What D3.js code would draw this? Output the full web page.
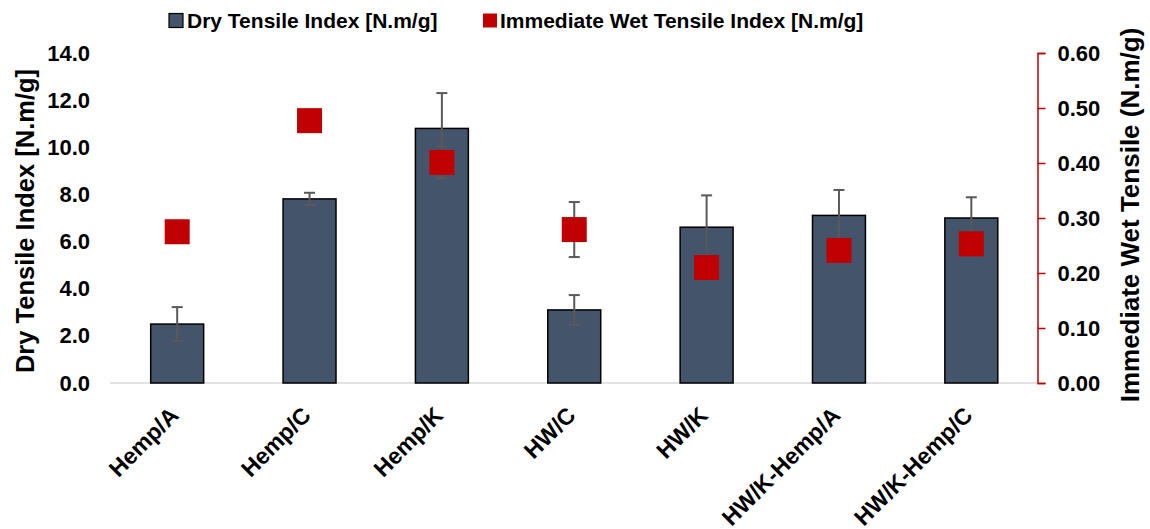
<!DOCTYPE html>
<html>
<head>
<meta charset="utf-8">
<script src="https://cdn.jsdelivr.net/npm/d3@7"></script>
<style>
  html, body { margin: 0; padding: 0; background: #fff; }
  svg { display: block; }
</style>
</head>
<body>
<svg id="chart" width="1150" height="529"></svg>
<script>
const categories = ["Hemp/A", "Hemp/C", "Hemp/K", "HW/C", "HW/K", "HW/K-Hemp/A", "HW/K-Hemp/C"];
const dryValues = [2.50, 7.81, 10.80, 3.10, 6.61, 7.11, 7.00];
const dryErrors = [0.72, 0.26, 1.50, 0.63, 1.35, 1.08, 0.88];
const wetValues = [0.275, 0.477, 0.401, 0.279, 0.210, 0.241, 0.253];
const wetErrors = [0.015, 0.015, 0.029, 0.050, 0.015, 0.015, 0.015];
const leftTicks = [0, 2, 4, 6, 8, 10, 12, 14];
const rightTicks = [0, 0.1, 0.2, 0.3, 0.4, 0.5, 0.6];
const seriesNames = ["Dry Tensile Index [N.m/g]", "Immediate Wet Tensile Index [N.m/g]"];
const leftTitle = "Dry Tensile Index [N.m/g]";
const rightTitle = "Immediate Wet Tensile (N.m/g)";

const barColor = "#44546A";
const wetColor = "#C00000";
const errColor = "#595959";
const FONT = "'Liberation Sans', Arial, sans-serif";

(function () {
const svg = d3.select("#chart");
const pL = 111, pR = 1037.5, pT = 53, pB = 383;

const x = d3.scaleBand().domain(categories).range([pL, pR]).paddingInner(0.6).paddingOuter(0.3);
const yL = d3.scaleLinear().domain([0, 14]).range([pB, pT]);
const yR = d3.scaleLinear().domain([0, 0.6]).range([pB, pT]);

function styleText(sel, size) {
  return sel.attr("font-family", FONT).attr("font-weight", "bold").attr("fill", "#000").attr("font-size", size);
}

// baseline
svg.append("line").attr("x1", 110).attr("x2", pR).attr("y1", pB).attr("y2", pB)
  .attr("stroke", "#D9D9D9").attr("stroke-width", 1.5);

// bars
svg.append("g").selectAll("rect").data(categories).join("rect")
  .attr("x", d => x(d))
  .attr("y", (d, i) => yL(dryValues[i]))
  .attr("width", x.bandwidth())
  .attr("height", (d, i) => yL(0) - yL(dryValues[i]))
  .attr("fill", barColor).attr("stroke", "#000").attr("stroke-width", 1.5);

// error bars
function errBars(g, vals, errs, scale) {
  const cap = 5.5;
  categories.forEach((c, i) => {
    const cx = x(c) + x.bandwidth() / 2;
    const y1 = scale(vals[i] + errs[i]), y2 = scale(vals[i] - errs[i]);
    g.append("line").attr("x1", cx).attr("x2", cx).attr("y1", y1).attr("y2", y2);
    g.append("line").attr("x1", cx - cap).attr("x2", cx + cap).attr("y1", y1).attr("y2", y1);
    g.append("line").attr("x1", cx - cap).attr("x2", cx + cap).attr("y1", y2).attr("y2", y2);
  });
}
const gErr = svg.append("g").attr("stroke", errColor).attr("stroke-width", 2);
errBars(gErr, dryValues, dryErrors, yL);
const gErr2 = svg.append("g").attr("stroke", errColor).attr("stroke-width", 2);
errBars(gErr2, wetValues, wetErrors, yR);

// wet markers
const ms = 25;
svg.append("g").selectAll("rect").data(categories).join("rect")
  .attr("x", d => x(d) + x.bandwidth() / 2 - ms / 2)
  .attr("y", (d, i) => yR(wetValues[i]) - ms / 2)
  .attr("width", ms).attr("height", ms)
  .attr("fill", wetColor);

// left axis (labels only)
const axL = svg.append("g").attr("transform", `translate(${pL},0)`)
  .call(d3.axisLeft(yL).tickValues(leftTicks).tickFormat(d3.format(".1f")).tickSize(0).tickPadding(21));
axL.select(".domain").remove();
styleText(axL.selectAll("text"), 22);

// right axis
const axR = svg.append("g").attr("transform", `translate(${pR},0)`)
  .call(d3.axisRight(yR).tickValues(rightTicks).tickFormat(d3.format(".2f")).tickSize(8).tickSizeOuter(8).tickPadding(12));
axR.select(".domain").attr("stroke", wetColor).attr("stroke-width", 1.5);
axR.selectAll(".tick line").attr("stroke", wetColor).attr("stroke-width", 1.5);
styleText(axR.selectAll("text"), 22);

// x labels
styleText(svg.append("g").selectAll("text").data(categories).join("text"), 23)
  .attr("transform", d => `translate(${x(d) + x.bandwidth() / 2 - 3},${pB + 28}) rotate(-45)`)
  .attr("text-anchor", "end").attr("dy", "0.35em")
  .text(d => d);

// axis titles
styleText(svg.append("text"), 25.5)
  .attr("transform", `translate(34,${(pT + pB) / 2 + 3}) rotate(-90)`)
  .attr("text-anchor", "middle").text(leftTitle);
styleText(svg.append("text"), 26)
  .attr("transform", `translate(1139,215) rotate(-90)`)
  .attr("text-anchor", "middle").text(rightTitle);

// legend
const lg = svg.append("g");
lg.append("rect").attr("x", 169).attr("y", 13.5).attr("width", 14).attr("height", 14)
  .attr("fill", barColor).attr("stroke", "#000").attr("stroke-width", 1.2);
styleText(lg.append("text"), 21).attr("x", 187).attr("y", 28).text(seriesNames[0]);
lg.append("rect").attr("x", 483).attr("y", 13.5).attr("width", 14).attr("height", 14)
  .attr("fill", wetColor);
styleText(lg.append("text"), 21).attr("x", 500).attr("y", 28).text(seriesNames[1]);
})();
</script>
</body>
</html>
